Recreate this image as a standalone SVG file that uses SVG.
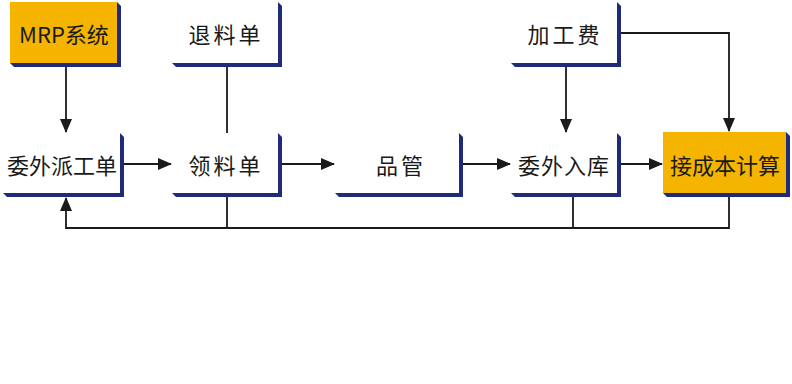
<svg xmlns="http://www.w3.org/2000/svg" width="792" height="384" viewBox="0 0 792 384">
<style>
.box{fill:#ffffff}
.hl{fill:#f4b400}
.sh{fill:#1f2a78}
.t{font-family:"Noto Sans CJK SC","Liberation Sans",sans-serif;font-size:22px;fill:#1a1a1a;text-anchor:middle;dominant-baseline:central}
.ln{stroke:#1a1a1a;stroke-width:1.8;fill:none}
</style>
<defs>
<marker id="ah" markerWidth="14" markerHeight="12" refX="13" refY="6" orient="auto" markerUnits="userSpaceOnUse">
<path d="M0,0 L14,6 L0,12 z" fill="#1a1a1a"/>
</marker>
</defs>
<rect width="792" height="384" fill="#ffffff"/>
<g id="connectors">
<line class="ln" x1="66" y1="67" x2="66" y2="132" marker-end="url(#ah)"/>
<line class="ln" x1="227" y1="67" x2="227" y2="133"/>
<line class="ln" x1="124" y1="164" x2="171" y2="164" marker-end="url(#ah)"/>
<line class="ln" x1="282" y1="164" x2="334" y2="164" marker-end="url(#ah)"/>
<line class="ln" x1="463" y1="164" x2="510" y2="164" marker-end="url(#ah)"/>
<line class="ln" x1="621" y1="164" x2="662" y2="164" marker-end="url(#ah)"/>
<line class="ln" x1="566" y1="67" x2="566" y2="132" marker-end="url(#ah)"/>
<polyline class="ln" points="621,33 729,33 729,131" marker-end="url(#ah)"/>
<polyline class="ln" points="729,197 729,228 66,228 66,198" marker-end="url(#ah)"/>
<line class="ln" x1="227" y1="197" x2="227" y2="228"/>
<line class="ln" x1="573" y1="197" x2="573" y2="228"/>
</g>
<g id="mrp">
<polygon class="sh" points="117,2 121,6 121,67 14,67 10,63"/>
<rect class="hl" x="10" y="2" width="107" height="61"/>
<text class="t" x="64" y="33">MRP系统</text>
</g>
<g id="tuiliao">
<polygon class="sh" points="278,2 282,6 282,67 176,67 172,63"/>
<rect class="box" x="172" y="2" width="106" height="61"/>
<text class="t" x="226" y="33" letter-spacing="3">退料单</text>
</g>
<g id="jiagongfei">
<polygon class="sh" points="617,2 621,6 621,67 515,67 511,63"/>
<rect class="box" x="511" y="2" width="106" height="61"/>
<text class="t" x="565" y="33" letter-spacing="3">加工费</text>
</g>
<g id="weiwaipaigong">
<polygon class="sh" points="120,133 124,137 124,197 7,197 3,193"/>
<rect class="box" x="3" y="133" width="117" height="60"/>
<text class="t" x="62" y="164">委外派工单</text>
</g>
<g id="lingliao">
<polygon class="sh" points="278,133 282,137 282,197 176,197 172,193"/>
<rect class="box" x="172" y="133" width="106" height="60"/>
<text class="t" x="226" y="164" letter-spacing="3">领料单</text>
</g>
<g id="pinguan">
<polygon class="sh" points="459,133 463,137 463,197 339,197 335,193"/>
<rect class="box" x="335" y="133" width="124" height="60"/>
<text class="t" x="401" y="164" letter-spacing="3">品管</text>
</g>
<g id="weiwairuku">
<polygon class="sh" points="617,133 621,137 621,197 515,197 511,193"/>
<rect class="box" x="511" y="133" width="106" height="60"/>
<text class="t" x="564" y="164" letter-spacing="1">委外入库</text>
</g>
<g id="chengben">
<polygon class="sh" points="786,132 790,136 790,197 667,197 663,193"/>
<rect class="hl" x="663" y="132" width="123" height="61"/>
<text class="t" x="725" y="164">接成本计算</text>
</g>
</svg>
